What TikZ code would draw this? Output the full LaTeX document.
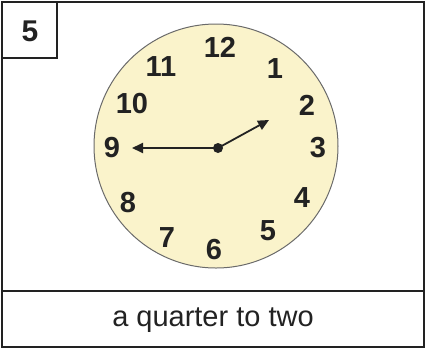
\documentclass[tikz,border=0pt]{standalone}
\usepackage{fontspec}
\setmainfont{Liberation Sans}
\usetikzlibrary{arrows.meta}
\definecolor{face}{HTML}{FAF3CB}
\definecolor{rim}{HTML}{6A6A6A}
\definecolor{ink}{HTML}{222222}
\tikzset{
  num/.style={font=\fontsize{29}{29}\selectfont\bfseries, text=ink, inner sep=0pt, anchor=center},
  hand/.style={line width=1.8pt, draw=ink, -{Triangle[length=11pt,width=10pt]}},
  frame/.style={draw=ink, line width=2pt}
}
\begin{document}
\begin{tikzpicture}[x=1pt,y=-1pt]
\useasboundingbox (0,0) rectangle (426,349);
% outer frame
\draw[frame] (2,2) rectangle (424,347);
\draw[frame] (2,291) -- (424,291);
\draw[frame] (2,2) rectangle (57,58);
\node[font=\fontsize{30}{30}\selectfont\bfseries, text=ink] (lab) at (30,31) {5};
% clock face
\node[circle, fill=face, draw=rim, line width=1pt, minimum size=244pt, inner sep=0pt] (face) at (216,146) {};
% numbers
\node[num] (n12) at (220,47) {12};
\node[num] (n1)  at (275,69) {1};
\node[num] (n2)  at (307,105) {2};
\node[num] (n3)  at (318,148) {3};
\node[num] (n4)  at (302,198) {4};
\node[num] (n5)  at (268,231) {5};
\node[num] (n6)  at (214,250) {6};
\node[num] (n7)  at (167,238) {7};
\node[num] (n8)  at (128,203) {8};
\node[num] (n9)  at (112,148) {9};
\node[num] (n10) at (132,104) {10};
\node[num] (n11) at (161,67) {11};
% hands
\coordinate (c) at (218,148);
\coordinate (mtip) at (132,148);
\coordinate (htip) at (269,120);
\draw[hand] (c) -- (mtip);
\draw[hand] (c) -- (htip);
\fill[ink] (c) circle (5pt);
% caption
\node[font=\fontsize{29}{29}\selectfont, text=ink] (cap) at (213,320) {a quarter to two};
\end{tikzpicture}
\end{document}
